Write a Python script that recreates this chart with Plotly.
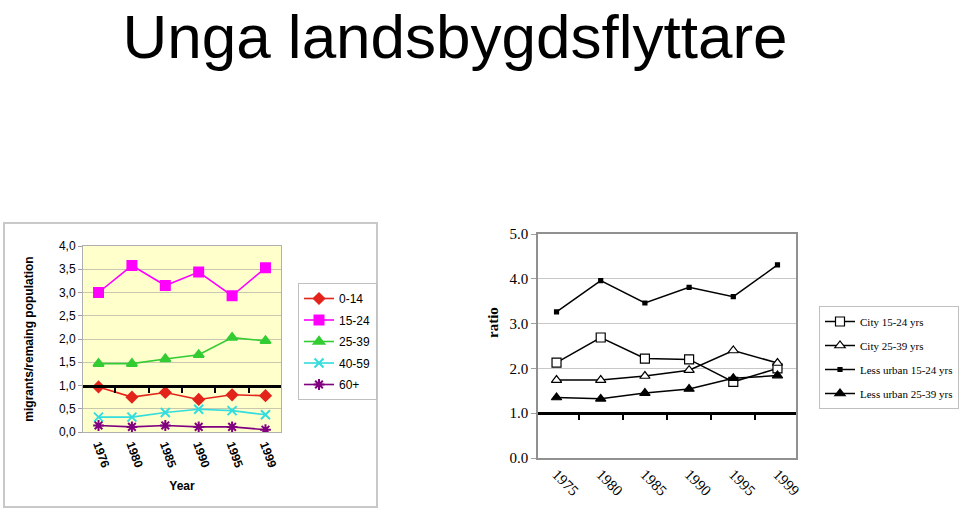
import plotly.graph_objects as go

W, H = 960, 512

# left chart data (migrants / remaining population by age group)
years_left = ["1976", "1980", "1985", "1990", "1995", "1999"]
age_0_14 = [0.97, 0.75, 0.85, 0.70, 0.80, 0.78]
age_15_24 = [3.00, 3.58, 3.15, 3.44, 2.93, 3.53]
age_25_39 = [1.47, 1.47, 1.57, 1.66, 2.03, 1.96]
age_40_59 = [0.32, 0.32, 0.42, 0.49, 0.46, 0.37]
age_60_plus = [0.14, 0.11, 0.14, 0.11, 0.11, 0.05]
left_ticks = [0, 0.5, 1, 1.5, 2, 2.5, 3, 3.5, 4]
left_tick_text = ["0,0", "0,5", "1,0", "1,5", "2,0", "2,5", "3,0", "3,5", "4,0"]

# right chart data (ratio, city vs less urban)
years_right = ["1975", "1980", "1985", "1990", "1995", "1999"]
city_15_24 = [2.13, 2.69, 2.22, 2.20, 1.70, 2.00]
city_25_39 = [1.74, 1.74, 1.83, 1.96, 2.40, 2.12]
less_urban_15_24 = [3.26, 3.96, 3.46, 3.81, 3.60, 4.31]
less_urban_25_39 = [1.35, 1.32, 1.45, 1.54, 1.78, 1.84]


def px_x(v):
    return v / W


def px_y(v):
    return 1 - v / H


SANS = "Liberation Sans, Arial, sans-serif"
SERIF = "Liberation Serif, Times New Roman, serif"

# plot area positions
L_dom_x = [px_x(83), px_x(281)]
L_dom_y = [px_y(432), px_y(246)]
R_dom_x = [px_x(538), px_x(796)]
R_dom_y = [px_y(458), px_y(234)]

fig = go.Figure()

left_series = [
    ("0-14", age_0_14, "#E3241B", "diamond", 8),
    ("15-24", age_15_24, "#FF00FF", "square", 9),
    ("25-39", age_25_39, "#33CC33", "triangle-up", 9),
    ("40-59", age_40_59, "#33DDDD", "x-thin-open", 9),
    ("60+", age_60_plus, "#800080", "asterisk-open", 9),
]
for name, vals, col, sym, sz in left_series:
    fig.add_trace(go.Scatter(
        x=years_left, y=vals, name=name, mode="lines+markers",
        line=dict(color=col, width=1.6),
        marker=dict(symbol=sym, size=sz, color=col, line=dict(color=col, width=2)),
        xaxis="x", yaxis="y", legend="legend", legendgroup="L" + name,
    ))

# invisible trace so the crossing axis at 1,0 gets the categories
fig.add_trace(go.Scatter(x=years_left, y=age_0_14, mode="lines", opacity=0,
                         showlegend=False, hoverinfo="skip", xaxis="x2", yaxis="y"))

right_series = [
    ("City 15-24 yrs", city_15_24, "square", 9, "white"),
    ("City 25-39 yrs", city_25_39, "triangle-up", 9, "white"),
    ("Less urban 15-24 yrs", less_urban_15_24, "square", 4, "black"),
    ("Less urban 25-39 yrs", less_urban_25_39, "triangle-up", 9, "black"),
]
for name, vals, sym, sz, fill in right_series:
    fig.add_trace(go.Scatter(
        x=years_right, y=vals, name=name, mode="lines+markers",
        line=dict(color="black", width=1.5),
        marker=dict(symbol=sym, size=sz, color=fill, line=dict(color="black", width=1.2)),
        xaxis="x3", yaxis="y3", legend="legend2", legendgroup="R" + name,
    ))

fig.add_trace(go.Scatter(x=years_right, y=less_urban_25_39, mode="lines", opacity=0,
                         showlegend=False, hoverinfo="skip", xaxis="x4", yaxis="y3"))

gray = "#A0A0A0"

fig.update_layout(
    width=W, height=H,
    margin=dict(l=0, r=0, t=0, b=0, autoexpand=False),
    paper_bgcolor="white",
    plot_bgcolor="rgba(0,0,0,0)",
    showlegend=True,
    title=dict(text="Unga landsbygdsflyttare", x=px_x(455), xanchor="center",
               y=px_y(36), yanchor="middle",
               font=dict(family=SANS, size=62, color="black")),
    xaxis=dict(domain=L_dom_x, anchor="y", type="category",
               showline=True, linecolor="#B0B0B0", linewidth=1, mirror=True,
               ticks="", tickangle=70, showgrid=False,
               tickfont=dict(family=SANS, size=12, color="black", weight="bold"),
               title=dict(text="Year", standoff=12,
                          font=dict(family=SANS, size=12, color="black", weight="bold"))),
    xaxis2=dict(overlaying="x", matches="x", anchor="free", type="category",
                position=L_dom_y[0] + 0.25 * (L_dom_y[1] - L_dom_y[0]),
                showline=True, linecolor="black", linewidth=3,
                ticks="outside", tickson="boundaries", ticklen=5, tickwidth=2,
                tickcolor="black", showticklabels=False, showgrid=False),
    yaxis=dict(domain=L_dom_y, anchor="x", range=[0, 4],
               tickvals=left_ticks, ticktext=left_tick_text,
               showline=True, linecolor="#B0B0B0", linewidth=1, mirror=True,
               ticks="outside", ticklen=4, tickcolor=gray,
               gridcolor="#C8C8B0", gridwidth=1, zeroline=False,
               tickfont=dict(family=SANS, size=12, color="black"),
               title=dict(text="migrants/remaing population", standoff=22,
                          font=dict(family=SANS, size=12, color="black", weight="bold"))),
    xaxis3=dict(domain=R_dom_x, anchor="y3", type="category",
                showline=True, linecolor="#909090", linewidth=1.5, mirror=True,
                ticks="", tickangle=45, showgrid=False,
                tickfont=dict(family=SERIF, size=15, color="black")),
    xaxis4=dict(overlaying="x3", matches="x3", anchor="free", type="category",
                position=R_dom_y[0] + 0.2 * (R_dom_y[1] - R_dom_y[0]),
                showline=True, linecolor="black", linewidth=3,
                ticks="outside", tickson="boundaries", ticklen=5, tickwidth=2,
                tickcolor="black", showticklabels=False, showgrid=False),
    yaxis3=dict(domain=R_dom_y, anchor="x3", range=[0, 5], dtick=1, tickformat=".1f",
                showline=True, linecolor="#909090", linewidth=1.5, mirror=True,
                ticks="outside", ticklen=5, tickcolor=gray,
                gridcolor="#C8C8C8", gridwidth=1, zeroline=False,
                tickfont=dict(family=SERIF, size=15, color="black")),
    legend=dict(x=px_x(298), y=px_y(283), xanchor="left", yanchor="top",
                bgcolor="white", bordercolor="#C0C0C0", borderwidth=1,
                font=dict(family=SANS, size=12, color="black"),
                tracegroupgap=2.5, itemwidth=30),
    legend2=dict(x=px_x(819), y=px_y(306), xanchor="left", yanchor="top",
                 bgcolor="white", bordercolor="#C0C0C0", borderwidth=1,
                 font=dict(family=SERIF, size=11, color="black"),
                 tracegroupgap=5, itemwidth=30),
    annotations=[
        dict(text="ratio", x=px_x(493), y=px_y(323), xref="paper", yref="paper",
             textangle=-90, showarrow=False,
             font=dict(family=SERIF, size=15, color="black", weight="bold")),
    ],
    shapes=[
        # yellow plot background of the left chart
        dict(type="rect", xref="x domain", yref="y domain", x0=0, x1=1, y0=0, y1=1,
             fillcolor="#FFFFCC", line=dict(width=0), layer="below"),
        # frame round the left chart
        dict(type="rect", xref="paper", yref="paper",
             x0=px_x(4), x1=px_x(377), y0=px_y(507), y1=px_y(223),
             line=dict(color="#C8C8C8", width=2), layer="below"),
    ],
)

# drop the browser's default body margin so the figure sits at the page corner
fig.write_html("out.html", config={"displayModeBar": False},
               post_script="document.body.style.margin='0';")
